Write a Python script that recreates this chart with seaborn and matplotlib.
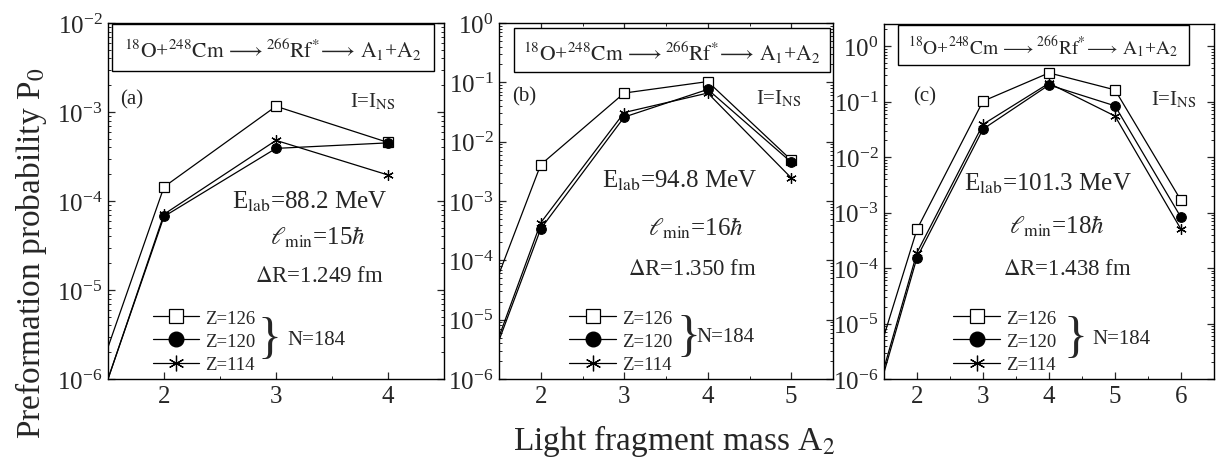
import numpy as np
import pandas as pd
import matplotlib
matplotlib.use("Agg")
import matplotlib.pyplot as plt
from matplotlib.patches import Rectangle
from matplotlib.ticker import MultipleLocator, LogLocator, NullFormatter
from matplotlib.lines import Line2D
import seaborn as sns

# ---------------- data ----------------
series_labels = ["Z=126", "Z=120", "Z=114"]

A2_a = [1, 2, 3, 4]
a_Z126 = [3.6e-8, 1.44e-4, 1.16e-3, 4.55e-4]
a_Z120 = [1.5e-8, 6.7e-5, 3.9e-4, 4.5e-4]
a_Z114 = [1.4e-8, 7.1e-5, 4.8e-4, 1.96e-4]

A2_b = [1, 2, 3, 4, 5]
b_Z126 = [8.5e-7, 4.1e-3, 0.066, 0.103, 4.9e-3]
b_Z120 = [5.9e-8, 3.4e-4, 0.026, 0.076, 4.5e-3]
b_Z114 = [6.2e-8, 4.3e-4, 0.031, 0.066, 2.45e-3]

A2_c = [1, 2, 3, 4, 5, 6]
c_Z126 = [7.2e-8, 5.0e-4, 0.102, 0.33, 0.163, 1.66e-3]
c_Z120 = [1.1e-8, 1.55e-4, 0.032, 0.20, 0.084, 8.2e-4]
c_Z114 = [1.3e-8, 1.9e-4, 0.039, 0.215, 0.055, 5.0e-4]

panel_tags = ["(a)", "(b)", "(c)"]
elab_texts = ["88.2", "94.8", "101.3"]
lmin_texts = ["15", "16", "18"]
dr_texts = ["1.249", "1.350", "1.438"]

# ---------------- style ----------------
sns.set_theme(style="ticks")
plt.rcParams["font.family"] = ["Liberation Serif", "DejaVu Serif"]
plt.rcParams["mathtext.fontset"] = "stix"
plt.rcParams["xtick.direction"] = "in"
plt.rcParams["ytick.direction"] = "in"
plt.rcParams["xtick.top"] = True
plt.rcParams["ytick.right"] = True
plt.rcParams["axes.edgecolor"] = "black"
plt.rcParams["axes.linewidth"] = 1.0

fig = plt.figure(figsize=(12.24, 4.64), dpi=100)
W, H = 1224, 464

def axes_px(l, r, t, b):
    return fig.add_axes([l / W, 1 - b / H, (r - l) / W, (b - t) / H])

ax_a = axes_px(108, 444, 24, 380)
ax_b = axes_px(499, 833, 24, 380)
ax_c = axes_px(884, 1214, 25, 380)

panels = [
    (ax_a, A2_a, [a_Z126, a_Z120, a_Z114], (1.5, 4.5), (1e-6, 1e-2)),
    (ax_b, A2_b, [b_Z126, b_Z120, b_Z114], (1.5, 5.5), (1e-6, 1e0)),
    (ax_c, A2_c, [c_Z126, c_Z120, c_Z114], (1.5, 6.5), (1e-6, 10 ** 0.4)),
]

styles = [
    dict(marker="s", markerfacecolor="white", markeredgecolor="black", markersize=6.5, markeredgewidth=0.9),
    dict(marker="o", markerfacecolor="black", markeredgecolor="black", markersize=7),
    dict(marker=(6, 2, 0), markerfacecolor="black", markeredgecolor="black", markersize=7.5, markeredgewidth=0.9),
]

# layout details for the per-panel annotations (axes fractions)
box_pos = [(0.012, 0.970, 0.865, 0.997), (0.045, 0.991, 0.862, 0.986), (0.042, 0.924, 0.885, 0.997)]
box_fs = [15.5, 15.5, 14]
tag_pos = [(0.036, 0.787), (0.04, 0.795), (0.088, 0.797)]
ins_pos = [(0.72, 0.78), (0.77, 0.79), (0.81, 0.79)]
elab_pos = [(0.60, 0.50), (0.54, 0.56), (0.497, 0.552)]
lmin_pos = [(0.625, 0.40), (0.59, 0.427), (0.525, 0.434)]
dr_pos = [(0.63, 0.29), (0.58, 0.31), (0.555, 0.31)]
leg_anchor = [(0.099, -0.015), (0.177, -0.015), (0.176, -0.015)]
brace_pos = [(0.481, 0.112), (0.566, 0.12), (0.579, 0.115)]
n_pos = [(0.533, 0.112), (0.592, 0.12), (0.63, 0.115)]

reaction = r"$^{18}\mathrm{O}$+$^{248}\mathrm{Cm}\,\longrightarrow^{266}\mathrm{Rf}^{*}\!\longrightarrow\,\mathrm{A}_{1}$+$\mathrm{A}_{2}$"

for i, (ax, xs, ys_list, xlim, ylim) in enumerate(panels):
    for lab, ys, st in zip(series_labels, ys_list, styles):
        df = pd.DataFrame({"A2": xs, "P0": ys})
        sns.lineplot(data=df, x="A2", y="P0", ax=ax, color="black", linewidth=0.9,
                     label=lab, legend=False, **st)
    ax.set_yscale("log")
    ax.set_xlim(*xlim)
    ax.set_ylim(*ylim)
    ax.set_xlabel("")
    ax.set_ylabel("")
    ax.xaxis.set_major_locator(MultipleLocator(1))
    ax.xaxis.set_minor_locator(MultipleLocator(0.5))
    ax.yaxis.set_major_locator(LogLocator(base=10, numticks=20))
    ax.yaxis.set_minor_locator(LogLocator(base=10, subs=np.arange(2, 10), numticks=20))
    ax.yaxis.set_minor_formatter(NullFormatter())
    ax.tick_params(which="major", length=5, width=0.9, labelsize=18, pad=4)
    ax.tick_params(which="minor", length=2.5, width=0.7)
    for s in ax.spines.values():
        s.set_visible(True)
        s.set_color("black")

    x0, x1, y0, y1 = box_pos[i]
    ax.add_patch(Rectangle((x0, y0), x1 - x0, y1 - y0, transform=ax.transAxes,
                           facecolor="white", edgecolor="black", linewidth=1.0, zorder=5))
    ax.text((x0 + x1) / 2, (y0 + y1) / 2 - 0.005, reaction, transform=ax.transAxes,
            ha="center", va="center", fontsize=box_fs[i], zorder=6)

    ax.text(*tag_pos[i], panel_tags[i], transform=ax.transAxes, ha="left", va="center", fontsize=15)
    ax.text(*ins_pos[i], r"I=I$_{\mathrm{NS}}$", transform=ax.transAxes, ha="left", va="center", fontsize=15)
    ax.text(*elab_pos[i], r"E$_{\mathrm{lab}}$=" + elab_texts[i] + " MeV", transform=ax.transAxes,
            ha="center", va="center", fontsize=18)
    ax.text(*lmin_pos[i], r"$\ell_{\mathrm{min}}$=" + lmin_texts[i] + r"$\hbar$", transform=ax.transAxes,
            ha="center", va="center", fontsize=18)
    ax.text(*dr_pos[i], r"$\Delta$R=" + dr_texts[i] + " fm", transform=ax.transAxes,
            ha="center", va="center", fontsize=16.5)

    handles = [Line2D([], [], color="black", linewidth=0.9, **st) for st in styles]
    ax.legend(handles, series_labels, loc="lower left", bbox_to_anchor=leg_anchor[i],
              frameon=False, fontsize=13.5, markerscale=1.5, handlelength=2.5,
              handletextpad=0.3, labelspacing=0.32, borderaxespad=0.2)
    ax.text(*brace_pos[i], "}", transform=ax.transAxes, ha="center", va="center",
            fontsize=36)
    ax.text(*n_pos[i], "N=184", transform=ax.transAxes, ha="left", va="center", fontsize=15)

fig.text(0.025, 0.455, r"Preformation probability P$_0$", rotation=90, ha="center", va="center", fontsize=24)
fig.text(0.551, 0.05, r"Light fragment mass A$_2$", ha="center", va="center", fontsize=24)

fig.savefig("out.png", dpi=100)
